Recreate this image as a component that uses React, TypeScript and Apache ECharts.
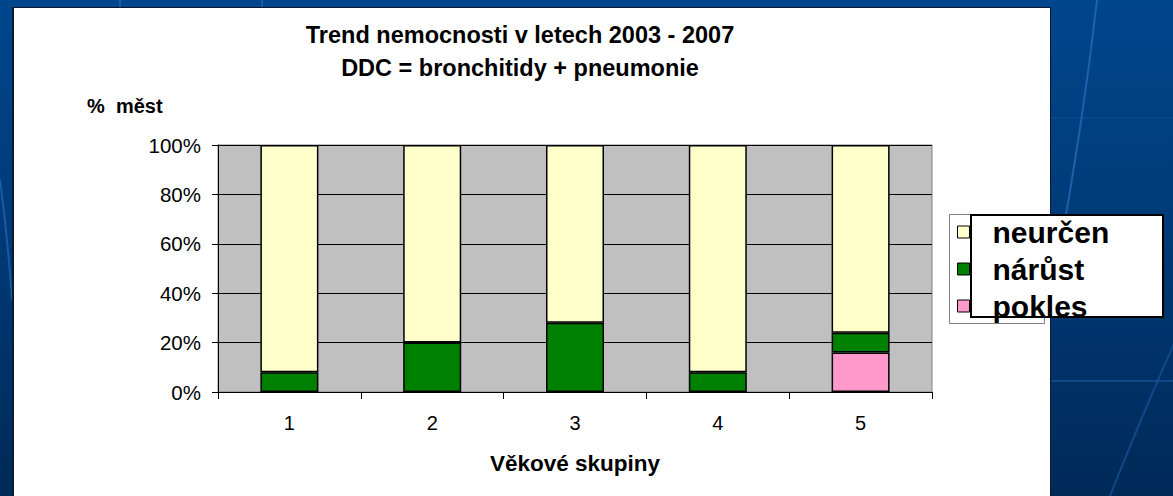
import React, { useEffect, useRef } from "react";
import * as echarts from "echarts";

const categories = ["1", "2", "3", "4", "5"];
const pokles = [0, 0, 0, 0, 16];
const narust = [8, 20, 28, 8, 8];
const neurcen = [92, 80, 72, 92, 76];
const yTicks = { min: 0, max: 100, interval: 20 };
const titleLines = ["Trend nemocnosti v letech 2003 - 2007", "DDC = bronchitidy + pneumonie"];
const yName = "%  měst";
const xName = "Věkové skupiny";
const legendNames = ["neurčen", "nárůst", "pokles"];

const FONT = "'Liberation Sans', Arial, sans-serif";

export default function App() {
  const ref = useRef<HTMLDivElement>(null);
  useEffect(() => {
    document.body.style.margin = "0";
    const chart = echarts.init(ref.current!, null, { renderer: "svg" });
    const border = { borderColor: "#000", borderWidth: 1.5 };
    chart.setOption({
      animation: false,
      textStyle: { fontFamily: FONT },
      title: [
        {
          text: titleLines.join("\n"),
          left: 515,
          top: 13,
          textAlign: "center",
          textStyle: { fontSize: 23.5, fontWeight: "bold", color: "#000", lineHeight: 33, fontFamily: FONT },
        },
        {
          text: yName,
          left: 82,
          top: 91,
          textStyle: { fontSize: 20, fontWeight: "bold", color: "#000", fontFamily: FONT },
        },
      ],
      graphic: [
        {
          type: "rect",
          z: 0,
          shape: { x: 949.5, y: 214.5, width: 95, height: 109 },
          style: { fill: "#fff", stroke: "#808080", lineWidth: 1 },
        },
        {
          type: "rect",
          z: 0,
          shape: { x: 971, y: 215, width: 192, height: 102 },
          style: { fill: "#fff", stroke: "#000", lineWidth: 2 },
        },
      ],
      legend: {
        data: legendNames,
        orient: "vertical",
        left: 957,
        top: 217,
        padding: 0,
        itemGap: 7,
        itemWidth: 12,
        itemHeight: 12,
        icon: "rect",
        itemStyle: { borderColor: "#000", borderWidth: 1 },
        textStyle: {
          fontSize: 30,
          fontWeight: "bold",
          color: "#000",
          lineHeight: 30,
          padding: [0, 0, 0, 18],
          fontFamily: FONT,
        },
      },
      grid: {
        left: 218,
        top: 145,
        width: 714,
        height: 247,
        show: true,
        backgroundColor: "#C0C0C0",
        borderColor: "#808080",
        borderWidth: 1,
      },
      xAxis: {
        type: "category",
        data: categories,
        name: xName,
        nameLocation: "middle",
        nameGap: 60,
        nameTextStyle: { fontSize: 22.5, fontWeight: "bold", color: "#000", fontFamily: FONT },
        axisLine: { lineStyle: { color: "#000", width: 1 } },
        axisTick: { show: true, length: 7, lineStyle: { color: "#000" } },
        axisLabel: { fontSize: 20, color: "#000", margin: 21, fontFamily: FONT },
      },
      yAxis: {
        type: "value",
        min: yTicks.min,
        max: yTicks.max,
        interval: yTicks.interval,
        axisLine: { show: true, lineStyle: { color: "#000", width: 1 } },
        axisTick: { show: true, length: 6, lineStyle: { color: "#000" } },
        axisLabel: { fontSize: 20.5, color: "#000", margin: 17, formatter: "{value}%", fontFamily: FONT },
        splitLine: { show: true, lineStyle: { color: "#000", width: 1 } },
      },
      series: [
        { name: "pokles", type: "bar", stack: "a", data: pokles, barWidth: 58, itemStyle: { color: "#FF99CC", ...border } },
        { name: "nárůst", type: "bar", stack: "a", data: narust, barWidth: 58, itemStyle: { color: "#008000", ...border } },
        { name: "neurčen", type: "bar", stack: "a", data: neurcen, barWidth: 58, itemStyle: { color: "#FFFFCC", ...border } },
      ],
    });
    return () => chart.dispose();
  }, []);

  return (
    <div
      style={{
        position: "fixed",
        left: 0,
        top: 0,
        width: 1173,
        height: 496,
        background: "linear-gradient(180deg, #00468c 0%, #003a78 45%, #002a58 100%)",
        overflow: "hidden",
      }}
    >
      <svg width={1173} height={496} style={{ position: "absolute", left: 0, top: 0 }}>
        <path d="M1097 0 Q1080 150 1050 300" stroke="#2a6fc0" strokeWidth={2} fill="none" opacity={0.7} />
        <path d="M1180 330 Q1140 420 1110 496" stroke="#1d5aa0" strokeWidth={2} fill="none" opacity={0.6} />
        <path d="M0 180 Q8 240 12 300" stroke="#2a6fc0" strokeWidth={2} fill="none" opacity={0.6} />
        <line x1={1051} y1={118} x2={1173} y2={118} stroke="#1d5aa0" strokeWidth={1} opacity={0.6} />
        <line x1={1051} y1={381} x2={1173} y2={381} stroke="#1d5aa0" strokeWidth={2} opacity={0.6} />
        <line x1={120} y1={0} x2={120} y2={7} stroke="#2a6fc0" strokeWidth={2} opacity={0.6} />
        <line x1={262} y1={0} x2={262} y2={7} stroke="#2a6fc0" strokeWidth={2} opacity={0.6} />
      </svg>
      <div
        style={{
          position: "absolute",
          left: 12,
          top: 7,
          width: 1039,
          height: 500,
          background: "#fff",
          borderLeft: "2px solid #0a1a30",
          borderTop: "1px solid #0a1a30",
          borderRight: "1px solid #0a1a30",
          boxSizing: "border-box",
        }}
      />
      <div ref={ref} style={{ position: "absolute", left: 0, top: 0, width: 1173, height: 496 }} />
    </div>
  );
}
